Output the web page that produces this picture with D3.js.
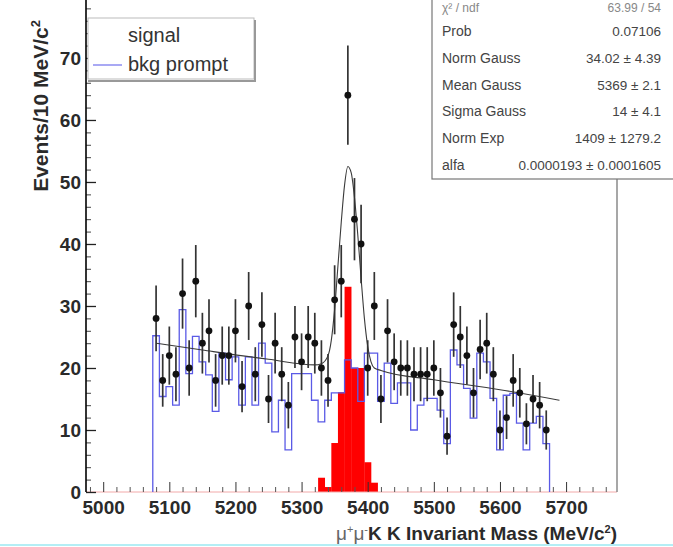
<!DOCTYPE html>
<html lang="en">
<head>
    <meta charset="UTF-8">
    <title>mu+mu-KK invariant mass</title>
    <script src="https://d3js.org/d3.v7.min.js"></script>
    <style>
        body {
            margin: 0;
            background-color: #fff;
        }

        svg {
            display: block;
            font-family: "Liberation Sans", Arial, sans-serif;
        }
    </style>
</head>
<body>
<svg width="673" height="547"></svg>

<script>
    // data points, 10 MeV bins, centres 5080 ... 5670
    const dataCenters = d3.range(5080, 5671, 10);
    const dataCounts = [28, 18, 22, 19, 32, 20, 34, 24, 26, 18,
        22, 22, 26, 17, 30, 19, 27, 15, 24, 19,
        14, 25, 21, 25, 24, 20, 18, 31, 34, 64,
        44, 40, 20, 30, 15, 26, 21, 20, 20, 19,
        19, 19, 20, 16, 9, 27, 25, 22, 16, 23,
        24, 19, 10, 12, 18, 16, 11, 15, 14, 10];

    // "bkg prompt" histogram, bin low edges 5075 ... 5665
    const bkgEdges = d3.range(5075, 5666, 10);
    const bkgCounts = [25.2, 15.4, 17.0, 14.0, 29.4, 19.1, 25.1, 21.0, 18.9, 13.0,
        22.4, 18.1, 21.8, 14.0, 21.8, 14.0, 24.0, 20.8, 9.7, 14.8,
        6.8, 19.1, 19.1, 19.1, 14.8, 11.3, 14.8, 16.0, 16.0, 21.3,
        20.0, 14.6, 22.4, 22.4, 14.6, 20.8, 14.3, 17.6, 17.6, 10.0,
        14.0, 15.1, 15.1, 13.2, 7.8, 22.9, 20.5, 16.7, 11.9, 22.4,
        21.0, 15.1, 6.8, 15.6, 15.9, 11.1, 6.8, 11.1, 12.2, 7.8];

    // "signal" histogram
    const signalEdges = [5325, 5335, 5345, 5355, 5365, 5375, 5385, 5395, 5405];
    const signalCounts = [2.3, 0.8, 7.9, 16.1, 33.1, 20.0, 20.0, 4.8, 1.5];

    // fit curve
    const fitMass = [5080, 5150, 5250, 5320, 5330, 5340, 5345, 5350, 5355, 5360, 5365, 5370,
        5375, 5380, 5385, 5390, 5395, 5400, 5405, 5410, 5420, 5500, 5600, 5690];
    const fitValues = [24.0, 22.9, 21.4, 20.5, 20.7, 22.0, 24.5, 29.5, 36.5, 43.5, 49.5, 52.5,
        51.5, 47.5, 41.5, 34.5, 28.0, 23.5, 21.0, 20.0, 19.6, 18.1, 16.5, 14.8];

    const xTicks = [5000, 5100, 5200, 5300, 5400, 5500, 5600, 5700];
    const yTicks = [0, 10, 20, 30, 40, 50, 60, 70];

    const statLabels = ["Prob", "Norm Gauss", "Mean Gauss", "Sigma Gauss", "Norm Exp", "alfa"];
    const statValues = ["0.07106", "34.02 \u00b1 4.39", "5369 \u00b1 2.1", "14 \u00b1 4.1",
        "1409 \u00b1 1279.2", "0.0000193 \u00b1 0.0001605"];

    const frame = { left: 86, right: 617, top: 0, bottom: 492 };

    const svg = d3.select("svg");

    const x = d3.scaleLinear()
        .domain([4974, 5777])
        .range([frame.left, frame.right]);

    const y = d3.scaleLinear()
        .domain([0, 79.35])
        .range([frame.bottom, frame.top]);

    // cyan line at the very bottom
    svg.append("rect")
        .attr("x", 0).attr("y", 544)
        .attr("width", 673).attr("height", 2)
        .attr("fill", "#b4eef5");

    // signal histogram (red)
    svg.append("g")
        .selectAll("rect")
        .data(signalEdges)
        .join("rect")
        .attr("x", d => x(d))
        .attr("width", d => x(d + 10) - x(d) + 0.3)
        .attr("y", (d, i) => y(signalCounts[i]))
        .attr("height", (d, i) => y(0) - y(signalCounts[i]))
        .attr("fill", "#ff0000");

    // baseline
    svg.append("line")
        .attr("x1", frame.left).attr("x2", frame.right)
        .attr("y1", y(0)).attr("y2", y(0))
        .attr("stroke", "#f2a9a9")
        .attr("stroke-width", 1);

    // bkg prompt histogram (blue steps)
    const bkgPoints = [[bkgEdges[0], 0]]
        .concat(bkgEdges.map((d, i) => [d, bkgCounts[i]]))
        .concat([[5675, bkgCounts[bkgCounts.length - 1]], [5675, 0]]);

    svg.append("path")
        .attr("d", d3.line()
            .x(d => x(d[0]))
            .y(d => y(d[1]))
            .curve(d3.curveStepAfter)(bkgPoints))
        .attr("fill", "none")
        .attr("stroke", "#5a5ae6")
        .attr("stroke-width", 1.3);

    // axes
    const yAxis = svg.append("g")
        .attr("transform", `translate(${frame.left},0)`)
        .call(d3.axisLeft(y).tickValues(yTicks).tickSizeInner(-10).tickSizeOuter(0).tickPadding(5));
    yAxis.select(".domain").remove();
    yAxis.selectAll("line").attr("stroke", "#222").attr("stroke-width", 1.3);
    yAxis.selectAll("text")
        .attr("font-family", "Liberation Sans, Arial, sans-serif")
        .attr("font-size", 19)
        .attr("font-weight", "bold")
        .attr("fill", "#2a2a2a");

    const yMinor = svg.append("g")
        .attr("transform", `translate(${frame.left},0)`)
        .call(d3.axisLeft(y).tickValues(d3.range(0, 79, 2).filter(v => v % 10 !== 0))
            .tickSizeInner(-5).tickSizeOuter(0).tickFormat(""));
    yMinor.select(".domain").remove();
    yMinor.selectAll("line").attr("stroke", "#444");

    const xAxis = svg.append("g")
        .attr("transform", `translate(0,${frame.bottom})`)
        .call(d3.axisBottom(x).tickValues(xTicks).tickSizeInner(-10).tickSizeOuter(0).tickPadding(9)
            .tickFormat(d3.format("d")));
    xAxis.select(".domain").remove();
    xAxis.selectAll("line").attr("stroke", "#333");
    xAxis.selectAll("text")
        .attr("font-family", "Liberation Sans, Arial, sans-serif")
        .attr("font-size", 19)
        .attr("font-weight", "bold")
        .attr("fill", "#2a2a2a");

    const xMinor = svg.append("g")
        .attr("transform", `translate(0,${frame.bottom})`)
        .call(d3.axisBottom(x).tickValues(d3.range(4980, 5777, 20).filter(v => v % 100 !== 0))
            .tickSizeInner(-5).tickSizeOuter(0).tickFormat(""));
    xMinor.select(".domain").remove();
    xMinor.selectAll("line").attr("stroke", "#555");

    // frame lines
    svg.append("line")
        .attr("x1", frame.left).attr("x2", frame.left)
        .attr("y1", 0).attr("y2", frame.bottom)
        .attr("stroke", "#000")
        .attr("stroke-width", 1.6);

    svg.append("line")
        .attr("x1", frame.right).attr("x2", frame.right)
        .attr("y1", 0).attr("y2", frame.bottom)
        .attr("stroke", "#8a8a8a")
        .attr("stroke-width", 1.5);

    // fit curve
    svg.append("path")
        .attr("d", d3.line()
            .x((d, i) => x(fitMass[i]))
            .y(d => y(d))
            .curve(d3.curveMonotoneX)(fitValues))
        .attr("fill", "none")
        .attr("stroke", "#3a3a3a")
        .attr("stroke-width", 1.1);

    // data points with poisson errors
    const points = svg.append("g");
    points.selectAll("line")
        .data(dataCounts)
        .join("line")
        .attr("x1", (d, i) => x(dataCenters[i]))
        .attr("x2", (d, i) => x(dataCenters[i]))
        .attr("y1", d => y(d + Math.sqrt(d)))
        .attr("y2", d => y(d - Math.sqrt(d)))
        .attr("stroke", "#333")
        .attr("stroke-width", 1.7);

    points.selectAll("circle")
        .data(dataCounts)
        .join("circle")
        .attr("cx", (d, i) => x(dataCenters[i]))
        .attr("cy", d => y(d))
        .attr("r", 3.4)
        .attr("fill", "#111");

    // axis titles
    const yTitle = svg.append("text")
        .attr("transform", "translate(48,20) rotate(-90)")
        .attr("text-anchor", "end")
        .attr("font-size", 21)
        .attr("font-weight", "bold")
        .attr("fill", "#2a2a2a");
    yTitle.append("tspan").text("Events/10 MeV/c");
    yTitle.append("tspan").attr("font-size", 13).attr("dy", -8).text("2");

    const xTitle = svg.append("text")
        .attr("x", frame.right)
        .attr("y", 540)
        .attr("text-anchor", "end")
        .attr("font-size", 19)
        .attr("fill", "#2a2a2a");
    xTitle.append("tspan").attr("fill", "#666").text("\u03bc");
    xTitle.append("tspan").attr("fill", "#666").attr("font-size", 11).attr("dy", -7).text("+");
    xTitle.append("tspan").attr("fill", "#666").attr("dy", 7).text("\u03bc");
    xTitle.append("tspan").attr("fill", "#666").attr("font-size", 11).attr("dy", -7).text("-");
    xTitle.append("tspan").attr("font-weight", "bold").attr("dy", 7).text("K K Invariant Mass (MeV/c");
    xTitle.append("tspan").attr("font-weight", "bold").attr("font-size", 11).attr("dy", -7).text("2");
    xTitle.append("tspan").attr("font-weight", "bold").attr("dy", 7).text(")");

    // legend
    const legend = svg.append("g");
    legend.append("rect")
        .attr("x", 88).attr("y", 18)
        .attr("width", 166).attr("height", 61)
        .attr("fill", "#fff")
        .attr("stroke", "#bbb");
    legend.append("path")
        .attr("d", "M255,20 V81 H88")
        .attr("fill", "none")
        .attr("stroke", "#999")
        .attr("stroke-width", 2);
    legend.append("text")
        .attr("x", 128).attr("y", 42)
        .attr("font-size", 20)
        .attr("fill", "#333")
        .text("signal");
    legend.append("line")
        .attr("x1", 93).attr("x2", 122)
        .attr("y1", 65).attr("y2", 65)
        .attr("stroke", "#8c8cf0")
        .attr("stroke-width", 1.5);
    legend.append("text")
        .attr("x", 128).attr("y", 71)
        .attr("font-size", 20)
        .attr("fill", "#333")
        .text("bkg prompt");

    // stats box
    const stats = svg.append("g");
    stats.append("rect")
        .attr("x", 432).attr("y", -2)
        .attr("width", 250).attr("height", 181)
        .attr("fill", "#fff")
        .attr("stroke", "#777")
        .attr("stroke-width", 1.2);
    stats.append("text")
        .attr("x", 442).attr("y", 12)
        .attr("font-size", 12).attr("fill", "#888")
        .text("\u03c7\u00b2 / ndf");
    stats.append("text")
        .attr("x", 661).attr("y", 12)
        .attr("text-anchor", "end")
        .attr("font-size", 12).attr("fill", "#888")
        .text("63.99 / 54");
    stats.selectAll(".stat-label")
        .data(statLabels)
        .join("text")
        .attr("class", "stat-label")
        .attr("x", 442)
        .attr("y", (d, i) => 36 + i * 26.8)
        .attr("font-size", 14)
        .attr("fill", "#444")
        .text(d => d);
    stats.selectAll(".stat-value")
        .data(statValues)
        .join("text")
        .attr("class", "stat-value")
        .attr("x", 661)
        .attr("y", (d, i) => 36 + i * 26.8)
        .attr("text-anchor", "end")
        .attr("font-size", 13.5)
        .attr("fill", "#444")
        .text(d => d);
</script>
</body>
</html>
